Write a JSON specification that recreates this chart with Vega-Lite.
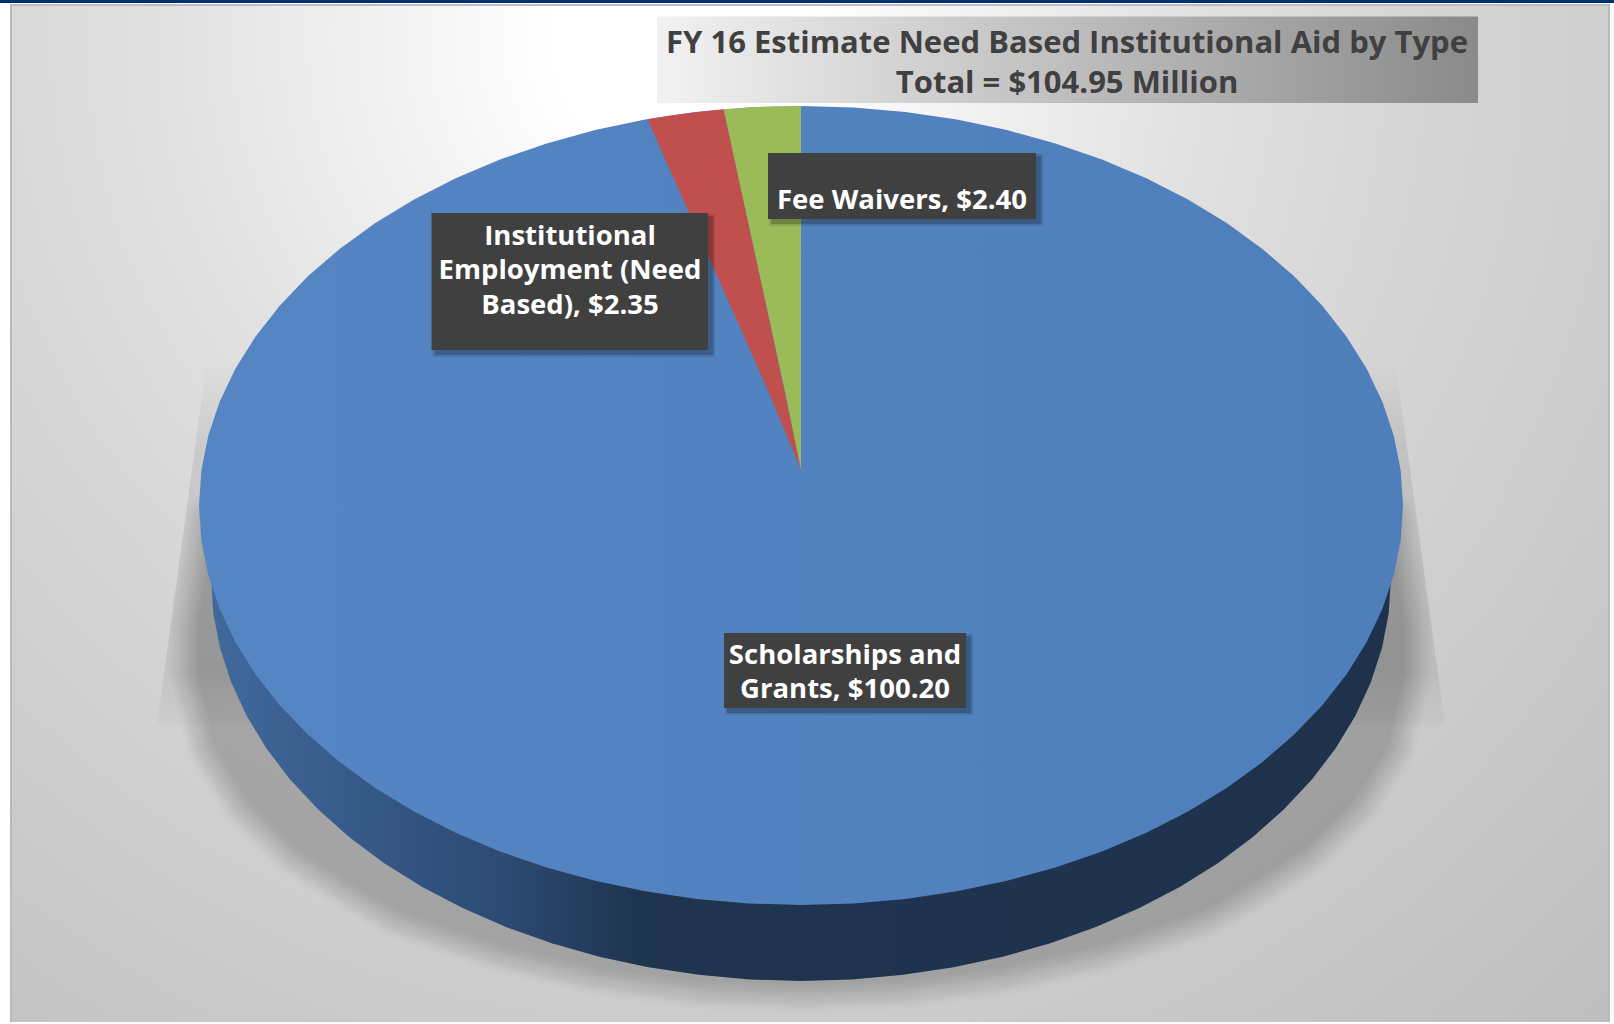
{"$schema":"https://vega.github.io/schema/vega-lite/v6.json","width":1614,"height":1024,"padding":0,"autosize":{"type":"fit","contains":"padding"},"background":"#ffffff","view":{"stroke":null},
"datasets":{
"panel":[{"x":-1.314,"x2":1.3439,"y":1.2553,"y2":-1.2932}],
"topband":[{"x":-1.3306,"x2":1.3505,"y":1.2653,"y2":1.2578}],
"edgetop":[{"x":-1.314,"x2":1.3439,"y":1.2553,"y2":1.2503}],
"edgeleft":[{"x":-1.314,"x2":-1.3107,"y":1.2553,"y2":-1.2932},{"x":1.3406,"x2":1.3439,"y":1.2553,"y2":-1.2932}],
"trap":[{"x":-1.0698,"y":-0.5495,"y2":-0.5495},{"x":-0.9867,"y":0.364,"y2":-0.5495},{"x":0.9867,"y":0.364,"y2":-0.5495},{"x":1.0698,"y":-0.5495,"y2":-0.5495}],
"shadow":[{"x":-1.0,"y":-0.3,"y2":-0.42},{"x":-0.9734,"y":-0.0363,"y2":-0.6},{"x":-0.9153,"y":-0.0363,"y2":-0.74},{"x":-0.8322,"y":-0.0363,"y2":-0.86},{"x":-0.7492,"y":-0.0363,"y2":-0.94},{"x":-0.6661,"y":-0.0363,"y2":-1.0125},{"x":-0.5,"y":-0.0363,"y2":-1.0976},{"x":-0.3339,"y":-0.0363,"y2":-1.1552},{"x":-0.1678,"y":-0.0363,"y2":-1.1877},{"x":0,"y":-0.0363,"y2":-1.1977},{"x":0.1678,"y":-0.0363,"y2":-1.1877},{"x":0.3339,"y":-0.0363,"y2":-1.1552},{"x":0.5,"y":-0.0363,"y2":-1.0976},{"x":0.6661,"y":-0.0363,"y2":-1.0125},{"x":0.7492,"y":-0.0363,"y2":-0.94},{"x":0.8322,"y":-0.0363,"y2":-0.86},{"x":0.9153,"y":-0.0363,"y2":-0.74},{"x":0.9734,"y":-0.0363,"y2":-0.6},{"x":1.0,"y":-0.3,"y2":-0.42}],
"side":[{"x":-0.98,"y":-0.1815,"y2":-0.1815},{"x":-0.9763,"y":-0.2695,"y2":-0.1815},{"x":-0.9651,"y":-0.3566,"y2":-0.1815},{"x":-0.9466,"y":-0.4426,"y2":-0.1815},{"x":-0.9209,"y":-0.5265,"y2":-0.1815},{"x":-0.8882,"y":-0.6078,"y2":-0.1815},{"x":-0.8487,"y":-0.6859,"y2":-0.1815},{"x":-0.8028,"y":-0.7601,"y2":-0.1815},{"x":-0.7507,"y":-0.83,"y2":-0.1815},{"x":-0.693,"y":-0.8948,"y2":-0.1815},{"x":-0.6299,"y":-0.9543,"y2":-0.1815},{"x":-0.5621,"y":-1.0079,"y2":-0.1815},{"x":-0.49,"y":-1.0551,"y2":-0.1815},{"x":-0.4141,"y":-1.0958,"y2":-0.1815},{"x":-0.3352,"y":-1.1295,"y2":-0.1815},{"x":-0.2536,"y":-1.1559,"y2":-0.1815},{"x":-0.1701,"y":-1.175,"y2":-0.1815},{"x":-0.0855,"y":-1.1865,"y2":-0.1815},{"x":0,"y":-1.1903,"y2":-0.1815},{"x":0.0855,"y":-1.1865,"y2":-0.1815},{"x":0.1701,"y":-1.175,"y2":-0.1815},{"x":0.2536,"y":-1.1559,"y2":-0.1815},{"x":0.3352,"y":-1.1295,"y2":-0.1815},{"x":0.4141,"y":-1.0958,"y2":-0.1815},{"x":0.49,"y":-1.0551,"y2":-0.1815},{"x":0.5621,"y":-1.0079,"y2":-0.1815},{"x":0.6299,"y":-0.9543,"y2":-0.1815},{"x":0.693,"y":-0.8948,"y2":-0.1815},{"x":0.7507,"y":-0.83,"y2":-0.1815},{"x":0.8028,"y":-0.7601,"y2":-0.1815},{"x":0.8487,"y":-0.6859,"y2":-0.1815},{"x":0.8882,"y":-0.6078,"y2":-0.1815},{"x":0.9209,"y":-0.5265,"y2":-0.1815},{"x":0.9466,"y":-0.4426,"y2":-0.1815},{"x":0.9651,"y":-0.3566,"y2":-0.1815},{"x":0.9763,"y":-0.2695,"y2":-0.1815},{"x":0.98,"y":-0.1815,"y2":-0.1815}],
"disk":[{"slice":"Scholarships and Grants","x":-1,"y":0,"y2":0},{"slice":"Scholarships and Grants","x":-0.9962,"y":0.0872,"y2":-0.0872},{"slice":"Scholarships and Grants","x":-0.9848,"y":0.1736,"y2":-0.1736},{"slice":"Scholarships and Grants","x":-0.9659,"y":0.2588,"y2":-0.2588},{"slice":"Scholarships and Grants","x":-0.9397,"y":0.342,"y2":-0.342},{"slice":"Scholarships and Grants","x":-0.9063,"y":0.4226,"y2":-0.4226},{"slice":"Scholarships and Grants","x":-0.866,"y":0.5,"y2":-0.5},{"slice":"Scholarships and Grants","x":-0.8192,"y":0.5736,"y2":-0.5736},{"slice":"Scholarships and Grants","x":-0.766,"y":0.6428,"y2":-0.6428},{"slice":"Scholarships and Grants","x":-0.7071,"y":0.7071,"y2":-0.7071},{"slice":"Scholarships and Grants","x":-0.6428,"y":0.766,"y2":-0.766},{"slice":"Scholarships and Grants","x":-0.5736,"y":0.8192,"y2":-0.8192},{"slice":"Scholarships and Grants","x":-0.5,"y":0.866,"y2":-0.866},{"slice":"Scholarships and Grants","x":-0.4226,"y":0.9063,"y2":-0.9063},{"slice":"Scholarships and Grants","x":-0.342,"y":0.9397,"y2":-0.9397},{"slice":"Scholarships and Grants","x":-0.2588,"y":0.9659,"y2":-0.9659},{"slice":"Scholarships and Grants","x":-0.1736,"y":0.9848,"y2":-0.9848},{"slice":"Scholarships and Grants","x":-0.0872,"y":0.9962,"y2":-0.9962},{"slice":"Scholarships and Grants","x":0,"y":1,"y2":-1},{"slice":"Scholarships and Grants","x":0.0872,"y":0.9962,"y2":-0.9962},{"slice":"Scholarships and Grants","x":0.1736,"y":0.9848,"y2":-0.9848},{"slice":"Scholarships and Grants","x":0.2588,"y":0.9659,"y2":-0.9659},{"slice":"Scholarships and Grants","x":0.342,"y":0.9397,"y2":-0.9397},{"slice":"Scholarships and Grants","x":0.4226,"y":0.9063,"y2":-0.9063},{"slice":"Scholarships and Grants","x":0.5,"y":0.866,"y2":-0.866},{"slice":"Scholarships and Grants","x":0.5736,"y":0.8192,"y2":-0.8192},{"slice":"Scholarships and Grants","x":0.6428,"y":0.766,"y2":-0.766},{"slice":"Scholarships and Grants","x":0.7071,"y":0.7071,"y2":-0.7071},{"slice":"Scholarships and Grants","x":0.766,"y":0.6428,"y2":-0.6428},{"slice":"Scholarships and Grants","x":0.8192,"y":0.5736,"y2":-0.5736},{"slice":"Scholarships and Grants","x":0.866,"y":0.5,"y2":-0.5},{"slice":"Scholarships and Grants","x":0.9063,"y":0.4226,"y2":-0.4226},{"slice":"Scholarships and Grants","x":0.9397,"y":0.342,"y2":-0.342},{"slice":"Scholarships and Grants","x":0.9659,"y":0.2588,"y2":-0.2588},{"slice":"Scholarships and Grants","x":0.9848,"y":0.1736,"y2":-0.1736},{"slice":"Scholarships and Grants","x":0.9962,"y":0.0872,"y2":-0.0872},{"slice":"Scholarships and Grants","x":1,"y":0,"y2":0}],
"wedges":[{"slice":"Institutional Employment","x":-0.255,"y":0.967,"y2":0.967},{"slice":"Institutional Employment","x":-0.22,"y":0.9755,"y2":0.8482},{"slice":"Institutional Employment","x":-0.18,"y":0.9837,"y2":0.7124},{"slice":"Institutional Employment","x":-0.15,"y":0.9887,"y2":0.6106},{"slice":"Institutional Employment","x":-0.1286,"y":0.9917,"y2":0.5379},{"slice":"Institutional Employment","x":-0.06,"y":0.5168,"y2":0.3051},{"slice":"Institutional Employment","x":0,"y":0.09,"y2":0.09},{"slice":"Fee Waivers","x":-0.1286,"y":0.9917,"y2":0.9917},{"slice":"Fee Waivers","x":-0.09,"y":0.9959,"y2":0.7245},{"slice":"Fee Waivers","x":-0.06,"y":0.9982,"y2":0.5168},{"slice":"Fee Waivers","x":-0.03,"y":0.99955,"y2":0.3091},{"slice":"Fee Waivers","x":0,"y":1,"y2":0.09}],
"labels":[{"slice":"Fee Waivers","value":2.4,"label":"Fee Waivers, $2.40","tx":0.1678,"ty":0.7622,"x":-0.0548,"x2":0.3904,"y":0.8824,"y2":0.7171},{"slice":"Institutional Employment","value":2.35,"label":"Institutional\nEmployment (Need\nBased), $2.35","tx":-0.3837,"ty":0.6721,"x":-0.6138,"x2":-0.1545,"y":0.7322,"y2":0.3892},{"slice":"Scholarships and Grants","value":100.2,"label":"Scholarships and\nGrants, $100.20","tx":0.0731,"ty":-0.3767,"x":-0.1279,"x2":0.2741,"y":-0.3191,"y2":-0.5069}],
"title":[{"label":"FY 16 Estimate Need Based Institutional Aid by Type\nTotal = $104.95 Million","tx":0.4419,"ty":1.154,"x":-0.2392,"x2":1.1246,"y":1.224,"y2":1.0075}]
},
"encoding":{
"x":{"field":"x","type":"quantitative","axis":null,"scale":{"domain":[-1.3306,1.3505],"nice":false,"zero":false}},
"y":{"field":"y","type":"quantitative","axis":null,"scale":{"domain":[-1.298,1.2653],"nice":false,"zero":false}}
},
"layer":[
{"data":{"name":"topband"},"mark":{"type":"rect","fill":"#00306f"},"encoding":{"x2":{"field":"x2"},"y2":{"field":"y2"}}},
{"data":{"name":"panel"},"mark":{"type":"rect","fill":{"gradient":"radial","x1":0.42,"y1":0.204,"r1":0,"x2":0.42,"y2":0.204,"r2":0.875,"stops":[{"offset":0,"color":"#ffffff"},{"offset":0.09,"color":"#ffffff"},{"offset":0.2,"color":"#f3f3f3"},{"offset":0.38,"color":"#e0e0e0"},{"offset":0.52,"color":"#d6d6d6"},{"offset":0.72,"color":"#cbcbcb"},{"offset":1,"color":"#bcbcbc"}]}},"encoding":{"x2":{"field":"x2"},"y2":{"field":"y2"}}},
{"data":{"name":"edgetop"},"mark":{"type":"rect","fill":"#bdbfc1"},"encoding":{"x2":{"field":"x2"},"y2":{"field":"y2"}}},
{"data":{"name":"edgeleft"},"mark":{"type":"rect","fill":"#b9b9b9"},"encoding":{"x2":{"field":"x2"},"y2":{"field":"y2"}}},
{"data":{"name":"trap"},"mark":{"type":"area","fill":{"gradient":"linear","x1":0,"y1":0,"x2":0,"y2":1,"stops":[{"offset":0,"color":"rgba(0,0,0,0)"},{"offset":0.25,"color":"rgba(0,0,0,0.08)"},{"offset":0.85,"color":"rgba(0,0,0,0.08)"},{"offset":1,"color":"rgba(0,0,0,0.02)"}]}},"encoding":{"y2":{"field":"y2"}}},
{"data":{"name":"shadow"},"mark":{"type":"area","fill":"#000000","stroke":"#000000","strokeWidth":2,"strokeJoin":"round","opacity":0.013},"encoding":{"y2":{"field":"y2"}}},
{"data":{"name":"shadow"},"mark":{"type":"area","fill":"#000000","stroke":"#000000","strokeWidth":7,"strokeJoin":"round","opacity":0.014},"encoding":{"y2":{"field":"y2"}}},
{"data":{"name":"shadow"},"mark":{"type":"area","fill":"#000000","stroke":"#000000","strokeWidth":12,"strokeJoin":"round","opacity":0.015},"encoding":{"y2":{"field":"y2"}}},
{"data":{"name":"shadow"},"mark":{"type":"area","fill":"#000000","stroke":"#000000","strokeWidth":17,"strokeJoin":"round","opacity":0.016},"encoding":{"y2":{"field":"y2"}}},
{"data":{"name":"shadow"},"mark":{"type":"area","fill":"#000000","stroke":"#000000","strokeWidth":22,"strokeJoin":"round","opacity":0.016},"encoding":{"y2":{"field":"y2"}}},
{"data":{"name":"shadow"},"mark":{"type":"area","fill":"#000000","stroke":"#000000","strokeWidth":27,"strokeJoin":"round","opacity":0.016},"encoding":{"y2":{"field":"y2"}}},
{"data":{"name":"shadow"},"mark":{"type":"area","fill":"#000000","stroke":"#000000","strokeWidth":32,"strokeJoin":"round","opacity":0.016},"encoding":{"y2":{"field":"y2"}}},
{"data":{"name":"shadow"},"mark":{"type":"area","fill":"#000000","stroke":"#000000","strokeWidth":37,"strokeJoin":"round","opacity":0.015},"encoding":{"y2":{"field":"y2"}}},
{"data":{"name":"shadow"},"mark":{"type":"area","fill":"#000000","stroke":"#000000","strokeWidth":42,"strokeJoin":"round","opacity":0.014},"encoding":{"y2":{"field":"y2"}}},
{"data":{"name":"shadow"},"mark":{"type":"area","fill":"#000000","stroke":"#000000","strokeWidth":47,"strokeJoin":"round","opacity":0.012},"encoding":{"y2":{"field":"y2"}}},
{"data":{"name":"shadow"},"mark":{"type":"area","fill":"#000000","stroke":"#000000","strokeWidth":52,"strokeJoin":"round","opacity":0.01},"encoding":{"y2":{"field":"y2"}}},
{"data":{"name":"shadow"},"mark":{"type":"area","fill":"#000000","stroke":"#000000","strokeWidth":58,"strokeJoin":"round","opacity":0.008},"encoding":{"y2":{"field":"y2"}}},
{"data":{"name":"side"},"mark":{"type":"area","fill":{"gradient":"linear","x1":0,"y1":0,"x2":1,"y2":0,"stops":[{"offset":0,"color":"#41699c"},{"offset":0.25,"color":"#2c4a73"},{"offset":0.36,"color":"#1f344f"},{"offset":1,"color":"#1e324c"}]}},"encoding":{"y2":{"field":"y2"}}},
{"data":{"name":"disk"},"mark":{"type":"area","fill":{"gradient":"linear","x1":0,"y1":0,"x2":1,"y2":0,"stops":[{"offset":0,"color":"#5585c3"},{"offset":1,"color":"#4e7fbb"}]}},"encoding":{"y2":{"field":"y2"},"detail":{"field":"slice"}}},
{"data":{"name":"wedges"},"mark":{"type":"area"},"encoding":{"y2":{"field":"y2"},"color":{"field":"slice","type":"nominal","legend":null,"scale":{"domain":["Institutional Employment","Fee Waivers"],"range":["#c0504d","#9bbb59"]}}}},
{"data":{"name":"labels"},"mark":{"type":"rect","fill":"#000000","stroke":"#000000","strokeWidth":6,"opacity":0.1,"xOffset":4,"x2Offset":4,"yOffset":4,"y2Offset":4},"encoding":{"x2":{"field":"x2"},"y2":{"field":"y2"}}},
{"data":{"name":"labels"},"mark":{"type":"rect","fill":"#000000","stroke":"#000000","strokeWidth":2,"opacity":0.2,"xOffset":4,"x2Offset":4,"yOffset":4,"y2Offset":4},"encoding":{"x2":{"field":"x2"},"y2":{"field":"y2"}}},
{"data":{"name":"labels"},"mark":{"type":"rect","fill":"#404040"},"encoding":{"x2":{"field":"x2"},"y2":{"field":"y2"}}},
{"data":{"name":"title"},"mark":{"type":"rect","fill":{"gradient":"linear","x1":0,"y1":0,"x2":1,"y2":0,"stops":[{"offset":0,"color":"#f2f2f2"},{"offset":1,"color":"#8a8a8a"}]}},"encoding":{"x2":{"field":"x2"},"y2":{"field":"y2"}}},
{"data":{"name":"title"},"mark":{"type":"text","font":"Open Sans","fontWeight":700,"fontSize":31,"lineHeight":40,"lineBreak":"\n","align":"center","baseline":"middle","fill":"#404040"},"encoding":{"x":{"field":"tx","type":"quantitative"},"y":{"field":"ty","type":"quantitative"},"text":{"field":"label"}}},
{"data":{"name":"labels"},"mark":{"type":"text","font":"Open Sans","fontWeight":700,"fontSize":27.5,"lineHeight":34.5,"lineBreak":"\n","align":"center","baseline":"middle","fill":"#ffffff"},"encoding":{"x":{"field":"tx","type":"quantitative"},"y":{"field":"ty","type":"quantitative"},"text":{"field":"label"}}}
]}
